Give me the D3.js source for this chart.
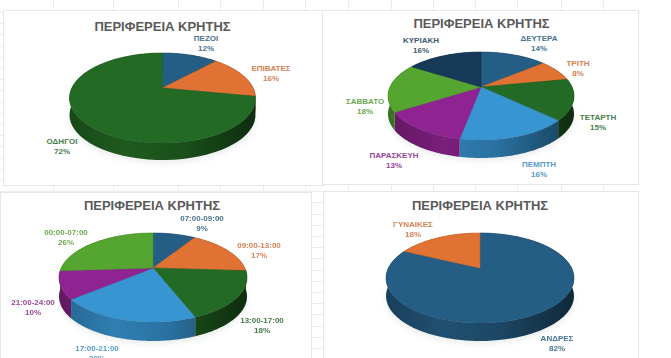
<!DOCTYPE html>
<html>
<head>
<meta charset="utf-8">
<script src="https://cdn.jsdelivr.net/npm/d3@7"></script>
<style>
  html, body { margin: 0; background: #fff; overflow: hidden; }
  svg { display: block; filter: blur(0.35px); }
  text { font-family: "Liberation Sans", Arial, sans-serif; }
</style>
</head>
<body>
<div id="chart"></div>
<script>
const chartTitle = "ΠΕΡΙΦΕΡΕΙΑ ΚΡΗΤΗΣ";

const travellerLabels = ["ΠΕΖΟΙ", "ΕΠΙΒΑΤΕΣ", "ΟΔΗΓΟΙ"];
const travellerValues = [12, 16, 72];

const dayLabels = ["ΔΕΥΤΕΡΑ", "ΤΡΙΤΗ", "ΤΕΤΑΡΤΗ", "ΠΕΜΠΤΗ", "ΠΑΡΑΣΚΕΥΗ", "ΣΑΒΒΑΤΟ", "ΚΥΡΙΑΚΗ"];
const dayValues = [14, 8, 15, 16, 13, 18, 16];

const hourLabels = ["07:00-09:00", "09:00-13:00", "13:00-17:00", "17:00-21:00", "21:00-24:00", "00:00-07:00"];
const hourValues = [9, 17, 18, 20, 10, 26];

const genderLabels = ["ΑΝΔΡΕΣ", "ΓΥΝΑΙΚΕΣ"];
const genderValues = [82, 18];

const palette = ["#255e85", "#e07234", "#236b24", "#3795d2", "#8f2391", "#55a630", "#163a57"];

const width = 671;
const height = 358;

// label centres are placed by eye, one per slice
const charts = [
  {
    labels: travellerLabels, values: travellerValues,
    panel: [3, 10, 320, 175], titleX: 162.5, titleY: 30.5,
    cx: 162.5, cy: 88, halfWidth: 93, up: 35, down: 55, depth: 17,
    spots: [[206, 38], [271, 68], [62, 141]],
  },
  {
    labels: dayLabels, values: dayValues,
    panel: [322, 10, 316, 174], titleX: 481.5, titleY: 28,
    cx: 481, cy: 87, halfWidth: 93, up: 35, down: 53, depth: 18,
    spots: [[539, 38], [578, 63], [598, 117], [539, 164], [394, 155], [365, 101], [421, 40]],
  },
  {
    labels: hourLabels, values: hourValues,
    panel: [0, 192, 311, 170], titleX: 152, titleY: 210,
    cx: 153, cy: 268, halfWidth: 94, up: 35, down: 54, depth: 19,
    spots: [[202, 218], [259, 245], [262, 320], [97, 348], [33, 302], [66, 232]],
  },
  {
    labels: genderLabels, values: genderValues,
    panel: [323, 191, 315, 171], titleX: 480, titleY: 210,
    cx: 480, cy: 268, halfWidth: 94, up: 35, down: 55, depth: 18,
    spots: [[557, 338], [413, 224]],
  },
];

const gridColumns = [53, 113, 178, 220, 263, 305, 348, 391, 433, 475, 517, 561, 603];
const gridRows = d3.range(0, 31).map((i) => 12 + i * 11.2);

const svg = d3
  .select("#chart")
  .append("svg")
  .attr("width", width)
  .attr("height", height);

const defs = svg.append("defs");
defs
  .append("filter")
  .attr("id", "soft")
  .attr("x", "-20%")
  .attr("y", "-20%")
  .attr("width", "140%")
  .attr("height", "140%")
  .append("feGaussianBlur")
  .attr("stdDeviation", 3);

const gridG = svg.append("g").attr("stroke", "#ececec").attr("stroke-width", 1);
gridG
  .selectAll(".col")
  .data(gridColumns)
  .join("line")
  .attr("class", "col")
  .attr("x1", (d) => d + 0.5)
  .attr("x2", (d) => d + 0.5)
  .attr("y1", 0)
  .attr("y2", height);
gridG
  .selectAll(".row")
  .data(gridRows)
  .join("line")
  .attr("class", "row")
  .attr("x1", 0)
  .attr("x2", 640)
  .attr("y1", (d) => Math.round(d) + 0.5)
  .attr("y2", (d) => Math.round(d) + 0.5);

charts.forEach(renderPie);

function renderPie(chart, chartIndex) {
  const { cx, cy, halfWidth, up, down, depth } = chart;

  // perspective: the near half of the disc is larger than the far half
  const k = (up - down) / (up + down);
  const a = up * (1 - k);
  const r = halfWidth * Math.sqrt(1 - k * k);
  const project = (theta) => {
    const s = -Math.cos(theta);
    const w = 1 + k * s;
    return [cx + (r * Math.sin(theta)) / w, cy + (a * s) / w];
  };

  const g = svg.append("g");
  const [px, py, pw, ph] = chart.panel;

  g.append("rect")
    .attr("x", px + 0.5)
    .attr("y", py + 0.5)
    .attr("width", pw)
    .attr("height", ph)
    .attr("fill", "#fff")
    .attr("stroke", "#e6e6e6");

  g.append("text")
    .attr("x", chart.titleX)
    .attr("y", chart.titleY)
    .attr("text-anchor", "middle")
    .attr("font-size", 13)
    .attr("font-weight", "bold")
    .attr("fill", "#5a5a5a")
    .text(chartTitle);

  const slices = d3.pie().sort(null)(chart.values);
  const colorOf = (i) => palette[i];
  const labelColor = d3.interpolateRgb.gamma(1);

  slices.forEach((d, i) => {
    const base = d3.color(colorOf(i));
    const grad = defs
      .append("linearGradient")
      .attr("id", `side-${chartIndex}-${i}`)
      .attr("gradientUnits", "userSpaceOnUse")
      .attr("x1", cx - halfWidth)
      .attr("x2", cx + halfWidth)
      .attr("y1", 0)
      .attr("y2", 0);
    [
      [0, 1.1],
      [0.3, 0.45],
      [0.6, 0.8],
      [1, 2.4],
    ].forEach(([offset, dark]) => {
      grad
        .append("stop")
        .attr("offset", offset)
        .attr("stop-color", base.darker(dark).formatHex());
    });
  });

  const line = d3.line();
  const rimPoints = (d) =>
    d3
      .range(0, 61)
      .map((t) => project(d.startAngle + ((d.endAngle - d.startAngle) * t) / 60));

  // soft shadow under the disc
  const fullDisc = rimPoints({ startAngle: 0, endAngle: 2 * Math.PI }).map(([x, y]) => [
    x,
    y + depth + 3,
  ]);
  g.append("path")
    .attr("d", line(fullDisc) + "Z")
    .attr("fill", "#9fb0a8")
    .attr("opacity", 0.22)
    .attr("filter", "url(#soft)");

  // outer wall first, the faces cover whatever lies behind them
  g.append("g")
    .selectAll("path")
    .data(slices)
    .join("path")
    .attr("fill", (d, i) => `url(#side-${chartIndex}-${i})`)
    .attr("d", (d) => {
      const rim = rimPoints(d);
      const lower = rim.map(([x, y]) => [x, y + depth]).reverse();
      return line(rim.concat(lower)) + "Z";
    });

  g.append("g")
    .selectAll("path")
    .data(slices)
    .join("path")
    .attr("fill", (d, i) => colorOf(i))
    .attr("stroke", (d, i) => d3.color(colorOf(i)).darker(0.4).formatHex())
    .attr("stroke-width", 0.6)
    .attr("stroke-linejoin", "round")
    .attr("d", (d) => line([[cx, cy]].concat(rimPoints(d))) + "Z");

  const labelG = g
    .append("g")
    .attr("text-anchor", "middle")
    .attr("font-size", 8)
    .attr("font-weight", "bold");

  const labelText = labelG
    .selectAll("text")
    .data(slices)
    .join("text")
    .attr("fill", (d, i) => labelColor(colorOf(i), "#b0b0b0")(0.25))
    .attr("transform", (d, i) => `translate(${chart.spots[i]})`);

  labelText
    .append("tspan")
    .attr("x", 0)
    .attr("dy", "0.35em")
    .text((d, i) => chart.labels[i]);

  labelText
    .append("tspan")
    .attr("x", 0)
    .attr("dy", 10)
    .text((d) => `${d.value}%`);
}
</script>
</body>
</html>
